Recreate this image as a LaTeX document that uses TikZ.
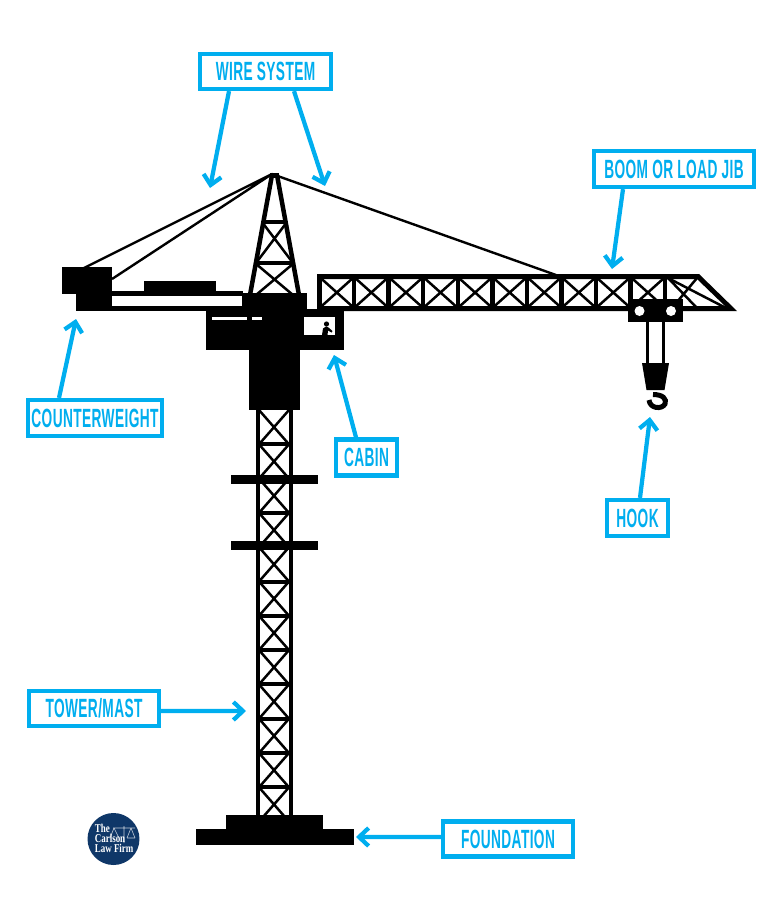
\documentclass[tikz,border=0pt]{standalone}
\usepackage{fontspec}
\setmainfont{Liberation Sans}
\newfontfamily\labelfont[FakeStretch=0.52,LetterSpace=1.5]{Liberation Sans}
\newfontfamily\logofont[FakeStretch=0.75]{Liberation Serif}
\usetikzlibrary{arrows.meta}
\definecolor{callout}{HTML}{00AEEF}
\definecolor{logoblue}{HTML}{0F3768}
\tikzset{
  callbox/.style={draw=callout,line width=.085cm,fill=white,minimum height=.7cm,inner sep=0pt,text=callout,font=\labelfont\bfseries\fontsize{15}{15}\selectfont},
  callarrow/.style={draw=callout,line width=.085cm,-{Straight Barb[length=.19cm,width=.36cm,line width=.085cm]}},
  heavy/.style={line width=.09cm,line cap=butt},
  lacing/.style={line width=.05cm}
}
\begin{document}
\begin{tikzpicture}[x=.02cm,y=-.02cm]
\useasboundingbox (0,0) rectangle (783,900);

% wires
\draw[line width=.048cm] (84,268) -- (272,174) -- (112,279);
\draw[line width=.048cm] (272,174) -- (556,275);

% top tower
\fill (270,173) rectangle (279,178);
\draw[heavy] (272,175) -- (250,295);
\draw[heavy] (277,175) -- (299,295);
\draw[heavy] (262,222) -- (287,222);
\draw[heavy] (255,263) -- (294,263);
\draw[lacing] (262,222) -- (293,263) (287,222) -- (256,263);
\draw[lacing] (255,263) -- (293,295) (294,263) -- (256,295);

% boom
\foreach \xa in {319.5,354,388.6,423.2,457.8,492.4,527,561.5,596,630.6} {
  \draw[lacing] (\xa,277) -- (\xa+34.6,308) (\xa+34.6,277) -- (\xa,308);
  \draw[line width=.09cm] (\xa,275) -- (\xa,309);
}
\draw[line width=.09cm] (665.2,275) -- (665.2,309);
\draw[lacing] (668,278) -- (697,308) (697,278) -- (672,308);
\draw[lacing] (668,278) -- (726,308);
\fill (317,274) -- (699,274) -- (737,311) -- (317,311) -- (317,306) -- (725,306) -- (697,279) -- (317,279) -- cycle;

% counter jib
\fill (62,267) rectangle (112,294);
\fill (76,294) rectangle (112,311);
\fill (112,291) rectangle (243,296);
\fill (112,306) rectangle (243,311);
\fill (144,281) rectangle (215.5,291);

% turntable and cab
\fill (242,293) rectangle (307,311);
\fill (206,309) rectangle (344,350);
\fill (249,350) rectangle (300,410);
\fill[white] (212,316.5) rectangle (247,320);
\fill[white] (252,316.5) rectangle (262,320);
\fill[white] (303.5,316.5) rectangle (334.5,335);
\fill (326.5,324) circle (2.6);
\fill (322,335) -- (323,328.5) -- (326,326.5) -- (328.5,327.5) -- (332.5,331) -- (331.5,332.5) -- (328,330.5) -- (327.5,335) -- cycle;

% mast
\foreach \ya in {0,...,11} {
  \draw[lacing] (259,410+34.3*\ya) -- (289,444.3+34.3*\ya) (289,410+34.3*\ya) -- (259,444.3+34.3*\ya);
  \draw[line width=.08cm] (257,444.3+34.3*\ya) -- (291,444.3+34.3*\ya);
}
\draw[line width=.08cm] (257.5,405) -- (257.5,816) (291,405) -- (291,816);
\fill (231,474.5) rectangle (318,484);
\fill (231,540.5) rectangle (318,550);

% foundation
\fill (226,814.5) rectangle (323,829);
\fill (196,829) rectangle (353.5,845);

% trolley and hook
\fill (628,299) rectangle (683,321.5);
\fill[white] (639.5,311) circle (5) (671,311) circle (5);
\draw[line width=.06cm] (647.5,321) -- (647.5,364) (663,321) -- (663,364);
\fill (642,363) -- (669,363) -- (664.5,390) -- (646.5,390) -- cycle;
\draw[line width=.1cm] (653,394.5) .. controls (663,394.5) and (667,399) .. (665,404) .. controls (662,409.5) and (650,409) .. (649,400);

% logo
\node[circle,fill=logoblue,minimum size=1.04cm,inner sep=0pt] (logo) at (113.5,839) {};
\draw[white!75!logoblue,line width=.012cm] (124,826) -- (124,843) (113,828) -- (135,828) (114,828) -- (110,838) (114,828) -- (119,838) (131,828) -- (127,838) (131,828) -- (135,838) (127,838) -- (135,838);
\node[text=white,align=left,inner sep=0pt,font=\logofont\bfseries\fontsize{6.8}{5.8}\selectfont,anchor=west] (logotext) at (94.5,838.5) {The\\Carlson\\Law Firm};

% labels
\node[callbox,minimum width=2.62cm] (wiresys) at (265.5,71.5) {WIRE SYSTEM};
\node[callbox,minimum width=3.2cm,minimum height=.72cm] (boom) at (674,169) {BOOM OR LOAD JIB};
\node[callbox,minimum width=2.68cm,minimum height=.72cm] (cweight) at (95,418) {COUNTERWEIGHT};
\node[callbox,minimum width=1.22cm,minimum height=.72cm] (cabin) at (366.5,457.5) {CABIN};
\node[callbox,minimum width=1.22cm,minimum height=.72cm] (hook) at (637.5,518) {HOOK};
\node[callbox,minimum width=2.6cm] (mast) at (94,708.5) {TOWER/MAST};
\node[callbox,minimum width=2.6cm] (found) at (508,839) {FOUNDATION};

% arrow tips
\coordinate (wiretipa) at (210,188);
\coordinate (wiretipb) at (325,186);
\coordinate (boomtip) at (612,269);
\coordinate (cweighttip) at (76,319);
\coordinate (cabintip) at (334,355);
\coordinate (hooktip) at (650,417);
\coordinate (masttip) at (246,711);
\coordinate (foundtip) at (356,837);

\draw[callarrow] ([xshift=-.73cm]wiresys.south) -- (wiretipa);
\draw[callarrow] ([xshift=.57cm]wiresys.south) -- (wiretipb);
\draw[callarrow] ([xshift=-1.02cm]boom.south) -- (boomtip);
\draw[callarrow] ([xshift=-.72cm]cweight.north) -- (cweighttip);
\draw[callarrow] ([xshift=-.21cm]cabin.north) -- (cabintip);
\draw[callarrow] ([xshift=.05cm]hook.north) -- (hooktip);
\draw[callarrow] ([yshift=-.05cm]mast.east) -- (masttip);
\draw[callarrow] ([yshift=.04cm]found.west) -- (foundtip);
\end{tikzpicture}
\end{document}
